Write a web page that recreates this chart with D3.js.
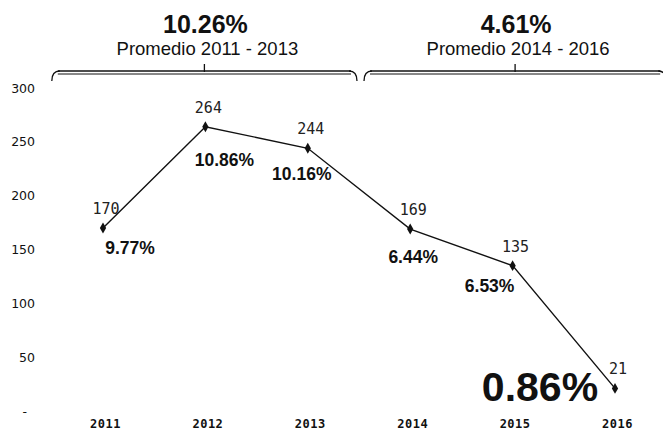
<!DOCTYPE html>
<html>
<head>
<meta charset="utf-8">
<script src="https://cdn.jsdelivr.net/npm/d3@7"></script>
<style>
  body { margin: 0; background: #fff; }
  svg { display: block; }
</style>
</head>
<body>
<div id="chart"></div>
<script>
var years = ["2011", "2012", "2013", "2014", "2015", "2016"];
var values = [170, 264, 244, 169, 135, 21];
var pcts = ["9.77%", "10.86%", "10.16%", "6.44%", "6.53%", "0.86%"];
var yTicks = [0, 50, 100, 150, 200, 250, 300];
var periodAvg = ["10.26%", "4.61%"];
var periodText = ["Promedio 2011 - 2013", "Promedio 2014 - 2016"];
var periodFrom = ["2011", "2014"];
var periodTo = ["2013", "2016"];

// where each % label sits relative to its point
var pctOffset = [[27, 26], [19, 39], [-6, 32], [3, 34], [-23, 26], [-75, 13]];
var pctSize = [17.5, 17.5, 17.5, 17.5, 17.5, 41];

var width = 663, height = 436;

var svg = d3.select("#chart").append("svg")
    .attr("width", width)
    .attr("height", height);

// x 比例尺
var xscale = d3.scalePoint()
    .domain(years)
    .range([103, 615]);
// y 比例尺
var yscale = d3.scaleLinear()
    .domain([0, 300])
    .range([411, 88]);

var yAxis = d3.axisLeft(yscale)
    .tickValues(yTicks)
    .tickSize(0)
    .tickPadding(0)
    .tickFormat(function (d) { return d === 0 ? "-\u00a0\u00a0" : d; });

var gy = svg.append("g")
    .attr("transform", "translate(35,0)")
    .call(yAxis);
gy.select(".domain").remove();
gy.selectAll("text")
    .style("font", "12.5px 'DejaVu Sans'")
    .attr("fill", "#111");

var xAxis = d3.axisBottom(xscale)
    .tickSize(0)
    .tickPadding(0);
var gx = svg.append("g")
    .attr("transform", "translate(2,419)")
    .call(xAxis);
gx.select(".domain").remove();
gx.selectAll("text")
    .style("font", "bold 12px 'DejaVu Sans Mono'")
    .style("letter-spacing", "0.5px")
    .attr("fill", "#111");

// line
var line = d3.line()
    .x(function (d, i) { return xscale(years[i]); })
    .y(function (d) { return yscale(d); });

svg.append("path")
    .datum(values)
    .attr("d", line)
    .attr("fill", "none")
    .attr("stroke", "#111")
    .attr("stroke-width", 1.4);

svg.selectAll(".mark")
    .data(values)
    .enter()
    .append("path")
    .attr("class", "mark")
    .attr("transform", function (d, i) {
        return "translate(" + xscale(years[i]) + "," + yscale(d) + ")";
    })
    .attr("d", d3.symbol().type(d3.symbolDiamond).size(34))
    .attr("fill", "#111");

// value labels
svg.selectAll(".val")
    .data(values)
    .enter()
    .append("text")
    .attr("class", "val")
    .attr("x", function (d, i) { return xscale(years[i]) + 3; })
    .attr("y", function (d) { return yscale(d) - 14; })
    .attr("text-anchor", "middle")
    .style("font", "15px 'DejaVu Sans Mono'")
    .attr("fill", "#222")
    .text(function (d) { return d; });

// percentage labels
svg.selectAll(".pct")
    .data(pcts)
    .enter()
    .append("text")
    .attr("class", "pct")
    .attr("x", function (d, i) { return xscale(years[i]) + pctOffset[i][0]; })
    .attr("y", function (d, i) { return yscale(values[i]) + pctOffset[i][1]; })
    .attr("text-anchor", "middle")
    .style("font-family", "'Liberation Sans', Arial, sans-serif")
    .style("font-weight", "bold")
    .style("font-size", function (d, i) { return pctSize[i] + "px"; })
    .attr("fill", "#111")
    .text(function (d) { return d; });

// braces + period averages
var step = xscale.step();
periodAvg.forEach(function (avg, k) {
    var x0 = xscale(periodFrom[k]) - step / 2 + (k ? 5 : 0);
    var x1 = xscale(periodTo[k]) + step / 2 - (k ? 0 : 2);
    var xm = (x0 + x1) / 2;
    var g = svg.append("g");
    [71, 74].forEach(function (yy, j) {
        g.append("path")
            .attr("d", "M" + (x0 + 6) + "," + yy + "L" + (x1 - 6) + "," + yy)
            .attr("stroke", "#111")
            .attr("stroke-width", j ? 1 : 1.3)
            .attr("fill", "none");
    });
    g.append("path")
        .attr("d", "M" + x0 + ",81Q" + x0 + ",71 " + (x0 + 8) + ",71" +
                   "M" + x1 + ",81Q" + x1 + ",71 " + (x1 - 8) + ",71" +
                   "M" + xm + ",72L" + xm + ",64")
        .attr("stroke", "#111")
        .attr("stroke-width", 1.3)
        .attr("fill", "none");
    g.append("text")
        .attr("x", xm + 1)
        .attr("y", 33)
        .attr("text-anchor", "middle")
        .style("font", "bold 25px 'Liberation Sans', Arial, sans-serif")
        .attr("fill", "#111")
        .text(avg);
    g.append("text")
        .attr("x", xm + 3)
        .attr("y", 55)
        .attr("text-anchor", "middle")
        .style("font", "18.5px 'Liberation Sans', Arial, sans-serif")
        .attr("fill", "#111")
        .text(periodText[k]);
});
</script>
</body>
</html>
